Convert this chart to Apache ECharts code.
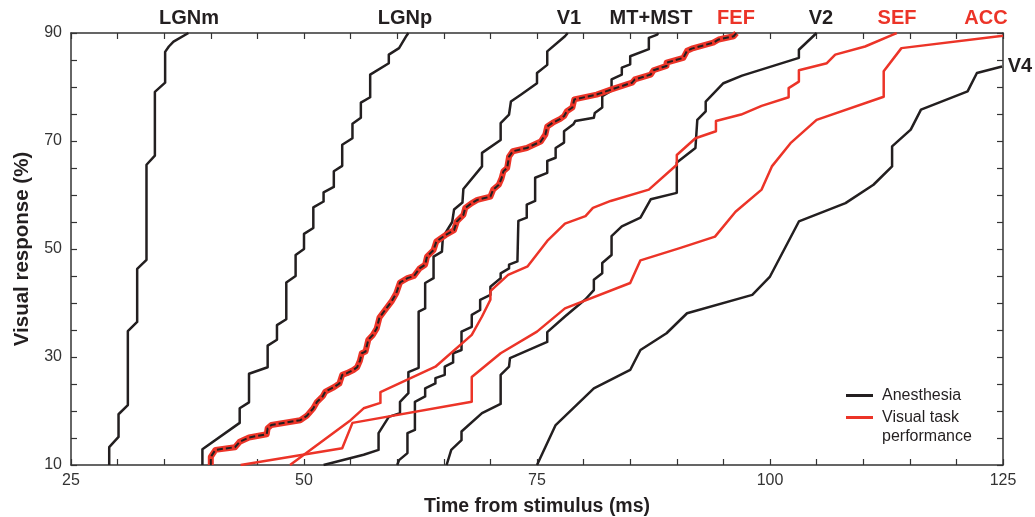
<!DOCTYPE html>
<html>
<head>
<meta charset="utf-8">
<script src="https://cdn.jsdelivr.net/npm/echarts@6/dist/echarts.min.js"></script>
<style>
  html, body { margin: 0; padding: 0; background: #fff; }
  #chart { width: 1035px; height: 517px; }
</style>
</head>
<body>
<div id="chart"></div>
<script>
// cumulative latency curves, [time (ms), % visual response]
var lgnm = [[29.1,10],[29.1,13.3],[30.1,15.2],[30.1,19.4],[31.1,21.1],[31.1,34.8],[32.1,36.5],[32.1,46.3],[33.1,48.0],[33.1,65.6],[34.0,67.3],[34.0,79.1],[35.1,80.8],[35.1,86.5],[35.5,87.5],[36.0,88.4],[37.6,90]];
var lgnp = [[39.1,10],[39.1,12.9],[43.1,17.8],[43.1,20.5],[44.1,21.6],[44.1,26.9],[46.1,28.1],[46.1,32.1],[47.1,33.2],[47.1,35.9],[48.1,37.0],[48.1,43.8],[49.1,45.0],[49.1,48.9],[50.0,50.0],[50.0,52.8],[51.0,53.9],[51.0,57.7],[52.1,58.8],[52.1,60.5],[53.2,61.5],[53.2,64.4],[54.1,65.4],[54.1,69.3],[55.2,70.5],[55.2,73.2],[56.1,74.3],[56.1,77.1],[57.1,78.1],[57.1,82.3],[59.1,84.4],[59.1,86.0],[60.2,87.2],[61.0,89.5],[61.2,90]];
var v1 = [[52.1,10],[56.4,11.9],[58.0,12.8],[58.0,15.9],[59.1,18.9],[60.3,19.6],[60.3,21.7],[61.2,23.3],[61.2,27.2],[62.3,28.0],[62.3,38.4],[63.0,39.0],[63.0,43.7],[63.9,44.6],[63.9,48.6],[64.8,49.5],[64.9,52.2],[65.9,55.0],[66.1,57.3],[67.0,58.6],[67.1,61.1],[69.1,65.3],[69.1,67.8],[71.1,70.2],[71.1,73.3],[72.0,74.9],[72.2,77.3],[73.3,78.6],[75.0,80.7],[75.0,82.6],[76.1,84.1],[76.1,86.6],[78.0,89.4],[78.3,90]];
var mtmst = [[60.0,10],[60.2,10.9],[61.1,12.2],[61.1,15.9],[61.9,16.5],[61.9,21.7],[63.0,22.7],[63.0,24.2],[64.1,25.1],[64.1,26.1],[65.1,26.7],[65.1,28.2],[66.0,29.0],[66.0,30.7],[66.9,31.3],[66.9,34.7],[68.0,35.6],[68.0,37.8],[68.9,38.7],[68.9,40.6],[70.0,41.5],[70.0,43.0],[71.1,44.6],[71.1,45.5],[72.0,46.4],[72.0,47.1],[72.9,47.7],[73.0,55.2],[73.9,55.8],[73.9,58.2],[74.8,58.9],[74.8,63.2],[76.1,64.1],[76.1,66.3],[77.0,66.9],[77.0,68.7],[77.9,69.7],[77.9,71.8],[78.9,73.1],[79.1,73.7],[81.1,74.3],[81.2,75.2],[82.0,76.2],[82.0,78.3],[83.0,79.3],[83.0,81.4],[84.1,82.3],[84.1,83.6],[85.0,84.2],[85.0,85.7],[87.0,87.0],[87.0,89.1],[87.9,89.7],[88.0,90]];
var v2 = [[65.3,10],[65.8,12.8],[66.9,14.6],[66.9,16.2],[69.1,19.6],[71.1,21.3],[71.1,26.7],[72.0,28.2],[72.1,29.8],[76.1,32.8],[76.1,34.6],[78.0,37.5],[80.2,40.7],[81.1,42.4],[81.1,44.3],[82.0,45.5],[82.0,47.4],[83.0,48.9],[83.0,52.4],[84.1,54.2],[86.1,55.8],[87.2,59.2],[90.0,60.4],[90.0,66.0],[92.0,68.7],[92.2,73.9],[93.1,75.5],[93.1,77.3],[95.0,80.7],[97.0,82.1],[103.1,85.4],[103.1,86.9],[105.0,90]];
var v4 = [[75.0,10],[77.0,17.4],[81.1,24.2],[85.0,27.6],[86.1,31.3],[88.9,34.4],[91.1,38.1],[98.1,41.5],[100.0,44.9],[103.1,55.1],[108.1,58.5],[111.1,61.9],[113.1,65.3],[113.1,69.0],[115.1,72.1],[116.2,75.8],[121.2,79.2],[122.2,82.6],[124.9,83.8]];
var fef = [[40.0,10],[40.0,11.5],[40.5,12.8],[42.6,13.3],[43.1,14.3],[44.1,15.1],[46.0,15.7],[46.1,16.8],[46.5,17.4],[49.6,18.3],[50.3,19.1],[51.0,20.5],[51.4,21.7],[52.0,22.7],[52.3,23.6],[53.2,24.4],[53.8,25.1],[54.1,26.7],[54.6,27.0],[55.3,27.6],[55.7,28.1],[56.0,29.3],[56.2,30.7],[56.6,31.0],[56.9,33.2],[57.4,34.1],[57.8,35.3],[58.1,37.3],[58.7,38.7],[59.4,40.3],[59.9,41.8],[60.3,43.8],[61.1,44.6],[61.8,45.0],[62.4,46.4],[63.0,47.1],[63.2,48.6],[63.9,49.8],[64.2,51.4],[65.2,52.6],[66.1,53.5],[66.4,55.1],[67.1,56.3],[67.3,57.6],[68.0,58.5],[68.6,59.1],[70.0,59.7],[70.3,61.0],[70.9,61.9],[71.2,63.1],[71.4,64.4],[71.8,65.0],[72.0,67.1],[72.4,68.1],[73.9,68.7],[75.4,69.9],[75.9,71.2],[76.1,72.7],[76.7,73.4],[77.5,74.1],[77.9,74.6],[78.2,75.5],[78.8,76.2],[79.0,77.7],[81.4,78.6],[82.9,79.5],[85.2,80.8],[85.5,81.4],[87.2,82.3],[87.5,83.1],[88.9,83.9],[88.9,84.5],[90.7,85.4],[91.1,86.7],[91.6,87.1],[93.9,88.2],[94.5,88.8],[96.1,89.4],[96.4,90]];
var sef = [[48.5,10],[55.0,18.3],[56.4,20.5],[58.2,21.5],[58.2,23.5],[64.1,28.2],[68.0,34.1],[69.1,37.5],[70.0,40.6],[70.0,42.2],[71.9,45.2],[74.0,46.8],[76.1,51.5],[78.0,54.7],[80.2,56.1],[81.0,57.6],[82.9,58.9],[87.0,61.0],[90.0,65.6],[90.0,67.4],[92.0,70.5],[94.2,71.8],[94.2,73.7],[96.9,74.9],[99.1,76.5],[102.0,78.1],[102.0,79.8],[103.1,81.0],[103.1,83.1],[106.1,84.4],[107.0,86.0],[110.2,87.5],[113.2,89.7],[113.6,90]];
var acc = [[43.2,10],[54.1,13.1],[55.2,17.8],[68.0,21.7],[68.0,26.3],[71.1,30.7],[75.0,34.7],[78.0,39.0],[85.0,43.7],[86.1,47.9],[90.4,50.2],[94.1,52.3],[96.3,56.9],[99.1,61.0],[100.2,65.3],[102.2,69.6],[105.0,73.9],[112.2,78.2],[112.2,82.9],[114.1,87.2],[125.0,89.5]];

var anesthesiaAreas = ['LGNm', 'LGNp', 'V1', 'MT+MST', 'V2', 'V4'];
var taskAreas = ['FEF', 'SEF', 'ACC'];
var groupNames = ['Anesthesia', 'Visual task performance'];

var BLACK = '#231f20';
var RED = '#ec3428';
var FONT = '"Liberation Sans", Arial, sans-serif';

function curve(name, data, color, width, dash, z) {
    return {
        name: name,
        type: 'line',
        data: data,
        showSymbol: false,
        symbol: 'none',
        silent: true,
        z: z || 2,
        itemStyle: {color: color},
        lineStyle: {color: color, width: width, type: dash || 'solid', join: 'round'}
    };
}

function area(text, x, y, color) {
    return {
        type: 'text', x: x, y: y, silent: true,
        style: {text: text, fill: color, align: 'center', verticalAlign: 'middle',
                font: 'bold 20px ' + FONT}
    };
}

function legendBox(name, top, fmt) {
    return {
        orient: 'vertical',
        left: 846, top: top, padding: 0,
        icon: 'rect',
        itemWidth: 27, itemHeight: 3,
        selectedMode: false,
        data: [name],
        formatter: fmt,
        textStyle: {fontSize: 16, color: BLACK, lineHeight: 19, fontFamily: FONT, padding: [0, 0, 0, 4]}
    };
}

var dom = document.getElementById('chart');
var myChart = echarts.init(dom, null, {renderer: 'canvas'});

var tickStyle = {color: '#333', width: 1.2};
var lineAxis = {show: true, onZero: false, lineStyle: {color: '#333', width: 1.5}};

var option = {
    animation: false,
    backgroundColor: '#fff',
    grid: {left: 71, right: 32, top: 33, bottom: 52, containLabel: false, outerBoundsMode: 'none'},
    legend: [
        legendBox(groupNames[0], 386, '{name}'),
        legendBox(groupNames[1], 389, '\nVisual task\nperformance')
    ],
    xAxis: [
        {
            type: 'value', min: 25, max: 125, interval: 25, position: 'bottom',
            axisLine: lineAxis,
            axisTick: {show: true, inside: true, length: 6, lineStyle: tickStyle},
            minorTick: {show: true, splitNumber: 5, length: 6, lineStyle: tickStyle},
            axisLabel: {color: '#333', fontSize: 16, margin: 8, fontFamily: FONT},
            splitLine: {show: false},
            name: 'Time from stimulus (ms)', nameLocation: 'middle', nameGap: 32,
            nameTextStyle: {fontWeight: 'bold', fontSize: 19.5, color: BLACK, fontFamily: FONT}
        },
        {
            type: 'value', min: 25, max: 125, interval: 25, position: 'top',
            axisLine: lineAxis,
            axisTick: {show: true, inside: true, length: 6, lineStyle: tickStyle},
            minorTick: {show: true, splitNumber: 5, length: 6, lineStyle: tickStyle},
            axisLabel: {show: false},
            splitLine: {show: false}
        }
    ],
    yAxis: [
        {
            type: 'value', min: 10, max: 90, interval: 20, position: 'left',
            axisLine: lineAxis,
            axisTick: {show: true, inside: true, length: 6, lineStyle: tickStyle},
            minorTick: {show: true, splitNumber: 4, length: 6, lineStyle: tickStyle},
            axisLabel: {color: '#333', fontSize: 16, margin: 9, fontFamily: FONT},
            splitLine: {show: false},
            name: 'Visual response (%)', nameLocation: 'middle', nameGap: 36, nameRotate: 90,
            nameTextStyle: {fontWeight: 'bold', fontSize: 20.5, color: BLACK, fontFamily: FONT}
        },
        {
            type: 'value', min: 10, max: 90, interval: 20, position: 'right',
            axisLine: lineAxis,
            axisTick: {show: true, inside: true, length: 6, lineStyle: tickStyle},
            minorTick: {show: true, splitNumber: 4, length: 6, lineStyle: tickStyle},
            axisLabel: {show: false},
            splitLine: {show: false}
        }
    ],
    series: [
        curve(groupNames[0], lgnm, BLACK, 2.5),
        curve(groupNames[0], lgnp, BLACK, 2.5),
        curve(groupNames[0], v1, BLACK, 2.5),
        curve(groupNames[0], mtmst, BLACK, 2.5),
        curve(groupNames[0], v2, BLACK, 2.5),
        curve(groupNames[0], v4, BLACK, 2.5),
        curve(groupNames[1], sef, RED, 2.5, 'solid', 3),
        curve(groupNames[1], acc, RED, 2.5, 'solid', 3),
        curve(groupNames[1], fef, RED, 6, 'solid', 4),
        curve('FEF anesthesia', fef, BLACK, 2, [6, 3], 5)
    ],
    graphic: [
        area(anesthesiaAreas[0], 189, 18, BLACK),
        area(anesthesiaAreas[1], 405, 18, BLACK),
        area(anesthesiaAreas[2], 569, 18, BLACK),
        area(anesthesiaAreas[3], 651, 18, BLACK),
        area(taskAreas[0], 736, 18, RED),
        area(anesthesiaAreas[4], 821, 18, BLACK),
        area(taskAreas[1], 897, 18, RED),
        area(taskAreas[2], 986, 18, RED),
        area(anesthesiaAreas[5], 1020, 66, BLACK)
    ]
};

if (option && typeof option === "object") {
    myChart.setOption(option, true);
}
</script>
</body>
</html>
